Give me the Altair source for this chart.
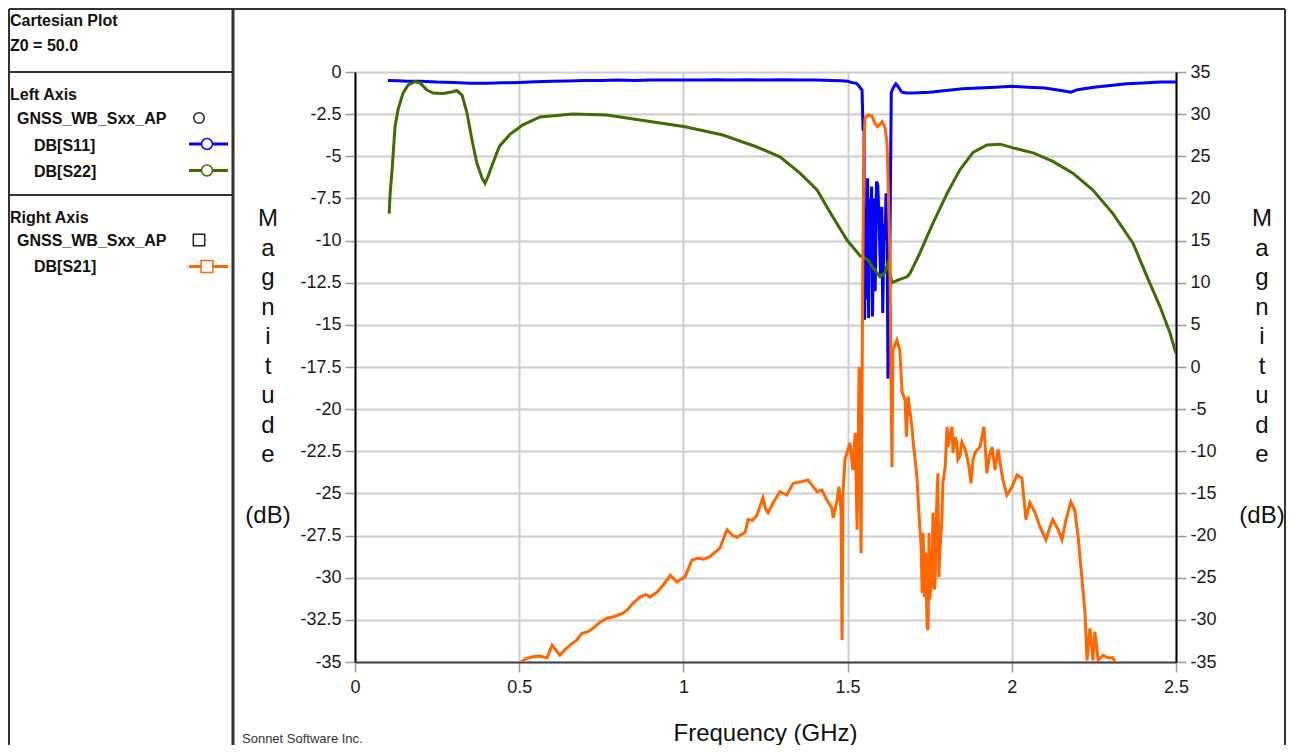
import altair as alt
import pandas as pd

# ---------------- data ----------------
s11_freq = [0.100, 0.130, 0.160, 0.200, 0.250, 0.300, 0.350, 0.400, 0.450, 0.500,
            0.550, 0.600, 0.650, 0.700, 0.750, 0.800, 0.850, 0.900, 0.950, 1.000,
            1.050, 1.100, 1.150, 1.200, 1.250, 1.300, 1.350, 1.400, 1.450, 1.480,
            1.500, 1.513, 1.525, 1.532, 1.544, 1.547, 1.550, 1.552, 1.555, 1.558,
            1.561, 1.564, 1.567, 1.570, 1.573, 1.576, 1.580, 1.584, 1.588, 1.592,
            1.596, 1.600, 1.604, 1.607, 1.611, 1.614, 1.617, 1.620, 1.623, 1.626,
            1.629, 1.631, 1.633, 1.640, 1.647, 1.655, 1.665, 1.680, 1.700, 1.750,
            1.800, 1.850, 1.900, 1.950, 2.000, 2.050, 2.100, 2.150, 2.180, 2.200,
            2.250, 2.300, 2.350, 2.400, 2.450, 2.500]
s11_db = [-0.50, -0.52, -0.55, -0.55, -0.60, -0.62, -0.66, -0.66, -0.64, -0.62,
          -0.58, -0.55, -0.53, -0.50, -0.50, -0.48, -0.50, -0.47, -0.48, -0.47,
          -0.48, -0.46, -0.48, -0.46, -0.47, -0.46, -0.48, -0.47, -0.50, -0.52,
          -0.55, -0.63, -0.65, -0.77, -1.07, -3.4, -3.5, -14.7, -8.0, -13.5,
          -6.3, -14.6, -7.5, -11.0, -6.8, -14.5, -7.5, -13.0, -6.5, -6.7,
          -9.0, -12.0, -8.0, -14.3, -9.0, -10.0, -7.2, -9.0, -18.2, -17.0,
          -10.0, -5.5, -1.2, -0.9, -0.7, -0.9, -1.2, -1.25, -1.25, -1.2,
          -1.1, -1.0, -0.95, -0.9, -0.85, -0.9, -0.95, -1.1, -1.2, -1.05,
          -0.9, -0.8, -0.7, -0.65, -0.6, -0.6]

s22_freq = [0.104, 0.107, 0.113, 0.122, 0.131, 0.146, 0.162, 0.183, 0.198, 0.219,
            0.238, 0.268, 0.298, 0.310, 0.326, 0.341, 0.356, 0.371, 0.387, 0.396,
            0.405, 0.420, 0.440, 0.472, 0.510, 0.563, 0.664, 0.767, 0.868, 1.005,
            1.120, 1.224, 1.294, 1.355, 1.407, 1.446, 1.498, 1.538, 1.562, 1.577,
            1.599, 1.614, 1.623, 1.635, 1.659, 1.681, 1.690, 1.720, 1.760, 1.803,
            1.842, 1.882, 1.924, 1.964, 2.004, 2.065, 2.125, 2.186, 2.247, 2.308,
            2.369, 2.412, 2.451, 2.482, 2.500]
s22_db = [-8.4, -7.2, -5.8, -3.2, -2.25, -1.25, -0.77, -0.57, -0.65, -1.07,
          -1.25, -1.28, -1.17, -1.1, -1.37, -2.43, -4.0, -5.4, -6.3, -6.6,
          -6.2, -5.4, -4.4, -3.7, -3.15, -2.67, -2.49, -2.55, -2.85, -3.25,
          -3.74, -4.45, -5.03, -6.0, -7.0, -8.3, -9.97, -10.9, -11.15, -11.6,
          -12.15, -11.9, -11.35, -12.5, -12.3, -12.15, -11.95, -10.75, -8.97, -7.2,
          -5.8, -4.77, -4.33, -4.28, -4.5, -4.8, -5.3, -6.0, -7.0, -8.4,
          -10.15, -12.15, -13.9, -15.5, -16.7]

s21_freq = [0.505, 0.508, 0.520, 0.539, 0.560, 0.585, 0.600, 0.612, 0.624, 0.640,
            0.655, 0.675, 0.691, 0.710, 0.725, 0.745, 0.767, 0.790, 0.816, 0.830,
            0.847, 0.868, 0.885, 0.898, 0.920, 0.940, 0.960, 0.980, 1.005, 1.026,
            1.045, 1.062, 1.081, 1.111, 1.133, 1.150, 1.163, 1.188, 1.197, 1.210,
            1.224, 1.242, 1.250, 1.258, 1.275, 1.294, 1.315, 1.334, 1.361, 1.379,
            1.395, 1.407, 1.422, 1.437, 1.452, 1.456, 1.468, 1.474, 1.480, 1.483,
            1.486, 1.492, 1.498, 1.507, 1.516, 1.523, 1.529, 1.535, 1.541, 1.546,
            1.549, 1.553, 1.562, 1.574, 1.583, 1.592, 1.605, 1.614, 1.620, 1.623,
            1.629, 1.632, 1.635, 1.638, 1.650, 1.659, 1.666, 1.675, 1.679, 1.684,
            1.696, 1.699, 1.711, 1.718, 1.724, 1.727, 1.730, 1.734, 1.738, 1.742,
            1.745, 1.748, 1.751, 1.755, 1.757, 1.760, 1.763, 1.766, 1.770, 1.775,
            1.778, 1.781, 1.787, 1.790, 1.797, 1.803, 1.806, 1.812, 1.818, 1.821,
            1.827, 1.833, 1.836, 1.842, 1.848, 1.855, 1.861, 1.868, 1.876, 1.882,
            1.888, 1.895, 1.903, 1.915, 1.920, 1.924, 1.932, 1.940, 1.949, 1.958,
            1.965, 1.973, 1.985, 2.001, 2.016, 2.031, 2.043, 2.055, 2.071, 2.086,
            2.104, 2.116, 2.125, 2.141, 2.153, 2.165, 2.180, 2.192, 2.202, 2.214,
            2.223, 2.229, 2.238, 2.247, 2.253, 2.263, 2.278, 2.293, 2.308, 2.314]
s21_db = [-35.0, -34.95, -34.6, -34.4, -34.3, -34.5, -33.0, -33.6, -34.2, -33.5,
          -33.0, -32.4, -31.6, -31.4, -31.0, -30.3, -29.8, -29.6, -29.2, -28.8,
          -28.0, -27.3, -27.0, -27.3, -26.7, -25.8, -24.7, -25.5, -24.9, -22.9,
          -22.7, -22.8, -22.5, -21.5, -19.3, -20.0, -20.2, -19.6, -18.1, -18.2,
          -17.6, -15.5, -16.8, -17.3, -16.0, -14.8, -15.2, -13.8, -13.6, -13.4,
          -14.2, -14.8, -14.6, -15.8, -16.7, -17.9, -15.8, -14.2, -17.0, -32.4,
          -15.0, -11.0, -10.2, -9.0, -12.2, -7.8, -19.3, 0.0, -22.1, 10.0,
          25.0, 29.5, 29.9, 29.8, 28.9, 28.5, 29.1, 28.4, 26.6, 22.5,
          12.7, -0.7, -11.9, 2.0, 3.2, 2.0, -3.0, -3.9, -8.3, -3.5,
          -7.1, -8.65, -13.0, -17.8, -21.3, -26.8, -19.7, -27.3, -22.0, -30.8,
          -31.2, -19.7, -27.6, -24.0, -25.3, -17.3, -26.4, -26.1, -18.0, -12.6,
          -24.9, -22.0, -18.1, -13.8, -11.9, -7.1, -9.5, -8.0, -7.1, -10.2,
          -8.3, -9.0, -11.0, -10.6, -8.9, -9.5, -10.2, -11.5, -13.8, -11.0,
          -10.2, -9.8, -9.5, -7.1, -10.0, -12.6, -10.5, -9.5, -12.2, -9.8,
          -11.5, -13.4, -15.2, -14.2, -12.8, -13.2, -18.1, -16.1, -17.3, -19.0,
          -20.5, -19.0, -18.1, -19.3, -20.5, -18.1, -16.0, -17.0, -20.2, -25.3,
          -29.2, -34.8, -31.0, -34.8, -31.4, -34.8, -34.2, -34.5, -34.5, -35.0]

x_ticks = [0, 0.5, 1, 1.5, 2, 2.5]
left_ticks = [0, -2.5, -5, -7.5, -10, -12.5, -15, -17.5, -20, -22.5, -25, -27.5, -30, -32.5, -35]
right_ticks = [35, 30, 25, 20, 15, 10, 5, 0, -5, -10, -15, -20, -25, -30, -35]

trace_names = ["DB[S11]", "DB[S22]"]
trace_colors = ["#0000ff", "#3d6e00"]
s21_name = "DB[S21]"
s21_color = "#ff6600"

# ---------------- tables ----------------
left_df = pd.DataFrame({
    "f": s11_freq + s22_freq,
    "db": s11_db + s22_db,
    "trace": [trace_names[0]] * len(s11_freq) + [trace_names[1]] * len(s22_freq),
})
right_df = pd.DataFrame({"f": s21_freq, "db": s21_db, "trace": [s21_name] * len(s21_freq)})
one = pd.DataFrame({"k": [0]})

FONT = "Liberation Sans"
W, H = 821, 590

x_enc = alt.X(
    "f:Q",
    scale=alt.Scale(domain=[0, 2.5], nice=False, zero=False),
    axis=alt.Axis(values=x_ticks, labelExpr="datum.value + ''", title=None,
                  grid=True, gridColor="#cccccc", gridWidth=2,
                  tickColor="#999999", tickSize=10, tickWidth=1.5,
                  labelFont=FONT, labelFontSize=18, labelColor="#1a1a1a",
                  labelPadding=6, labelFlush=False, labelOverlap=False,
                  domainColor="#444444", domainWidth=2),
)

left_lines = alt.Chart(left_df).mark_line(strokeWidth=3, clip=True).encode(
    x=x_enc,
    y=alt.Y("db:Q", scale=alt.Scale(domain=[-35, 0], nice=False, zero=False),
            axis=alt.Axis(values=left_ticks, labelExpr="datum.value + ''", title=None,
                          orient="left", grid=True, gridColor="#cccccc", gridWidth=2,
                          tickColor="#999999", tickSize=10, tickWidth=1.5,
                          labelFont=FONT, labelFontSize=18, labelColor="#1a1a1a",
                          labelPadding=4, labelOverlap=False, labelFlush=False,
                          domainColor="#000000", domainWidth=2)),
    color=alt.Color("trace:N", scale=alt.Scale(domain=trace_names, range=trace_colors), legend=None),
)

right_line = alt.Chart(right_df).mark_line(strokeWidth=3, clip=True, color=s21_color).encode(
    x=x_enc,
    y=alt.Y("db:Q", scale=alt.Scale(domain=[-35, 35], nice=False, zero=False),
            axis=alt.Axis(values=right_ticks, labelExpr="datum.value + ''", title=None,
                          orient="right", grid=False,
                          tickColor="#999999", tickSize=10, tickWidth=1.5,
                          labelFont=FONT, labelFontSize=18, labelColor="#1a1a1a",
                          labelPadding=4, labelOverlap=False, labelFlush=False,
                          domainColor="#000000", domainWidth=2)),
)


def txt(s, x, y, size=16, bold=True, align="left", color="#111111", lh=None):
    kw = dict(text=s, align=align, baseline="alphabetic", fontSize=size,
              fontWeight="bold" if bold else "normal", font=FONT, color=color)
    if lh is not None:
        kw.update(lineBreak="\n", lineHeight=lh)
    return alt.Chart(one).mark_text(**kw).encode(x=alt.value(x), y=alt.value(y))


def rule(x1, y1, x2, y2, color="#333333", width=2):
    return alt.Chart(one).mark_rule(color=color, strokeWidth=width).encode(
        x=alt.value(x1), x2=alt.value(x2), y=alt.value(y1), y2=alt.value(y2))


def sym(shape, x, y, stroke, size=121):
    return alt.Chart(one).mark_point(shape=shape, filled=True, fill="white", stroke=stroke,
                                     strokeWidth=1.5, size=size, opacity=1).encode(
        x=alt.value(x), y=alt.value(y))


decor = [
    # outer frame and legend panel boxes
    rule(-346, -63, -346, 690),
    rule(-346, -63, 930, -63),
    rule(930, -63, 930, 690),
    rule(-122, -63, -122, 690, width=3),
    rule(-346, 0, -122, 0),
    rule(-346, 123, -122, 123),
    # legend panel texts
    txt("Cartesian Plot", -345, -46),
    txt("Z0 = 50.0", -345, -21),
    txt("Left Axis", -345, 28),
    txt("GNSS_WB_Sxx_AP", -338, 52),
    sym("circle", -156, 46, "#222222", 110),
    txt("DB[S11]", -321, 79),
    rule(-166, 72, -127, 72, color=trace_colors[0], width=3),
    sym("circle", -148, 72, trace_colors[0]),
    txt("DB[S22]", -321, 105),
    rule(-166, 98.5, -127, 98.5, color=trace_colors[1], width=3),
    sym("circle", -148, 98.5, trace_colors[1]),
    txt("Right Axis", -345, 151),
    txt("GNSS_WB_Sxx_AP", -338, 174),
    sym("square", -156, 168, "#222222", 130),
    txt(s21_name, -321, 200),
    rule(-166, 194.5, -127, 194.5, color=s21_color, width=3),
    sym("square", -148, 194.5, s21_color, 140),
    # axis titles
    txt("M\na\ng\nn\ni\nt\nu\nd\ne", -87, 154, size=24, bold=False, align="center", lh=29.5),
    txt("(dB)", -87, 451, size=24, bold=False, align="center"),
    txt("M\na\ng\nn\ni\nt\nu\nd\ne", 907, 154, size=24, bold=False, align="center", lh=29.5),
    txt("(dB)", 907, 451, size=24, bold=False, align="center"),
    txt("Frequency (GHz)", W / 2, 669, size=24, bold=False, align="center"),
    txt("Sonnet Software Inc.", -113, 671, size=13, bold=False, color="#333333"),
]

chart = alt.layer(left_lines, right_line, *decor).resolve_scale(y="independent").properties(
    width=W, height=H,
    autosize=alt.AutoSizeParams(type="none"),
    padding={"left": 347, "top": 64, "right": 110, "bottom": 83},
).configure_view(stroke="#555555", strokeWidth=2).configure(background="white")

chart.save("out.html", embed_options={"renderer": "svg", "actions": False})
